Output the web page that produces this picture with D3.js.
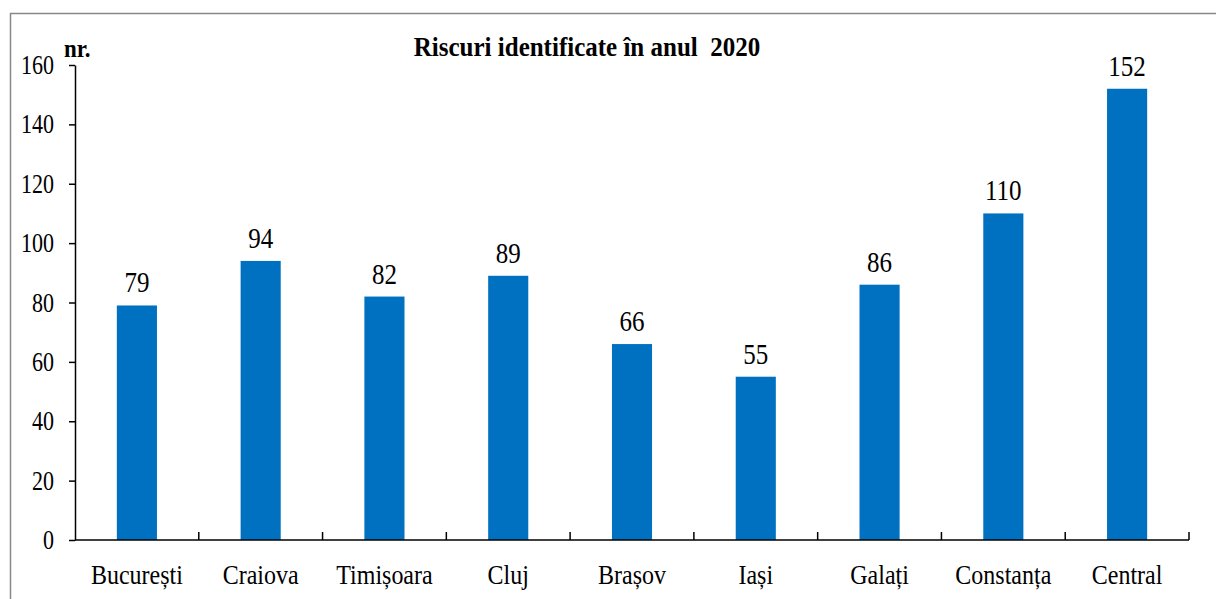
<!DOCTYPE html>
<meta charset="utf-8">
<style>
  body { margin: 0; background: #fff; }
  text { font-family: "Liberation Serif", "Times New Roman", serif; fill: #000; }
</style>
<body>
<script src="https://cdn.jsdelivr.net/npm/d3@7/dist/d3.min.js"></script>
<script>

    var width = 1216,
        height = 599;

    var categories = ["București", "Craiova", "Timișoara", "Cluj", "Brașov", "Iași", "Galați", "Constanța", "Central"];
    var values = [79, 94, 82, 89, 66, 55, 86, 110, 152];
    var yTicks = [0, 20, 40, 60, 80, 100, 120, 140, 160];
    var title = "Riscuri identificate în anul  2020";
    var unitLabel = "nr.";

    var plotLeft = 75, plotRight = 1189, plotTop = 65, plotBottom = 540;

    var svg = d3.select("body").append("svg")
            .attr("width", width)
            .attr("height", height);

    // frame
    svg.append("path")
            .attr("d", "M10.5," + height + "V13.5H" + width)
            .attr("fill", "none")
            .attr("stroke", "#888")
            .attr("stroke-width", 1.5);

    var x = d3.scaleBand()
            .domain(categories)
            .range([plotLeft, plotRight])
            .paddingInner(0.676)
            .paddingOuter(0.338);

    var y = d3.scaleLinear()
            .domain([0, 160])
            .range([plotBottom, plotTop]);

    svg.selectAll("rect.bar")
            .data(values)
            .enter().append("rect")
            .attr("class", "bar")
            .attr("x", function(d, i) { return x(categories[i]); })
            .attr("y", function(d) { return y(d); })
            .attr("width", x.bandwidth())
            .attr("height", function(d) { return plotBottom - y(d); })
            .attr("fill", "#0070C0");

    // y axis
    var yAxis = svg.append("g")
            .attr("transform", "translate(" + plotLeft + ",0)")
            .call(d3.axisLeft(y).tickValues(yTicks).tickSize(6).tickSizeOuter(0).tickFormat(""));
    yAxis.selectAll("line, path").attr("stroke", "#000").attr("stroke-width", 1.5);

    svg.selectAll("text.ytick")
            .data(yTicks)
            .enter().append("text")
            .attr("class", "ytick")
            .attr("text-anchor", "end")
            .attr("font-size", 22)
            .attr("transform", function(d) { return "translate(54," + (y(d) + 9) + ") scale(1,1.25)"; })
            .text(function(d) { return d; });

    // x axis, ticks between categories pointing up
    var bounds = categories.map(function(c) { return x(c) - x.step() * x.paddingInner() / 2; });
    bounds.push(plotRight);
    var xg = svg.append("g");
    xg.append("line")
            .attr("x1", plotLeft).attr("x2", plotRight)
            .attr("y1", plotBottom).attr("y2", plotBottom)
            .attr("stroke", "#000").attr("stroke-width", 1.5);
    xg.selectAll("line.xt")
            .data(bounds.slice(1))
            .enter().append("line")
            .attr("class", "xt")
            .attr("x1", function(d) { return d; }).attr("x2", function(d) { return d; })
            .attr("y1", plotBottom).attr("y2", plotBottom - 8)
            .attr("stroke", "#000").attr("stroke-width", 1.5);

    svg.selectAll("text.xlab")
            .data(categories)
            .enter().append("text")
            .attr("class", "xlab")
            .attr("text-anchor", "middle")
            .attr("font-size", 24)
            .attr("transform", function(d) { return "translate(" + (x(d) + x.bandwidth() / 2) + ",584) scale(1,1.1)"; })
            .text(function(d) { return d; });

    svg.selectAll("text.val")
            .data(values)
            .enter().append("text")
            .attr("class", "val")
            .attr("text-anchor", "middle")
            .attr("font-size", 25)
            .attr("transform", function(d, i) { return "translate(" + (x(categories[i]) + x.bandwidth() / 2) + "," + (y(d) - 13) + ") scale(1,1.15)"; })
            .text(function(d) { return d; });

    svg.append("text")
            .attr("text-anchor", "middle")
            .attr("font-size", 25)
            .attr("font-weight", "bold")
            .attr("transform", "translate(587,56) scale(1,1.05)")
            .style("white-space", "pre")
            .text(title);

    svg.append("text")
            .attr("font-size", 23)
            .attr("font-weight", "bold")
            .attr("transform", "translate(64,57) scale(1,1.1)")
            .text(unitLabel);

</script>
